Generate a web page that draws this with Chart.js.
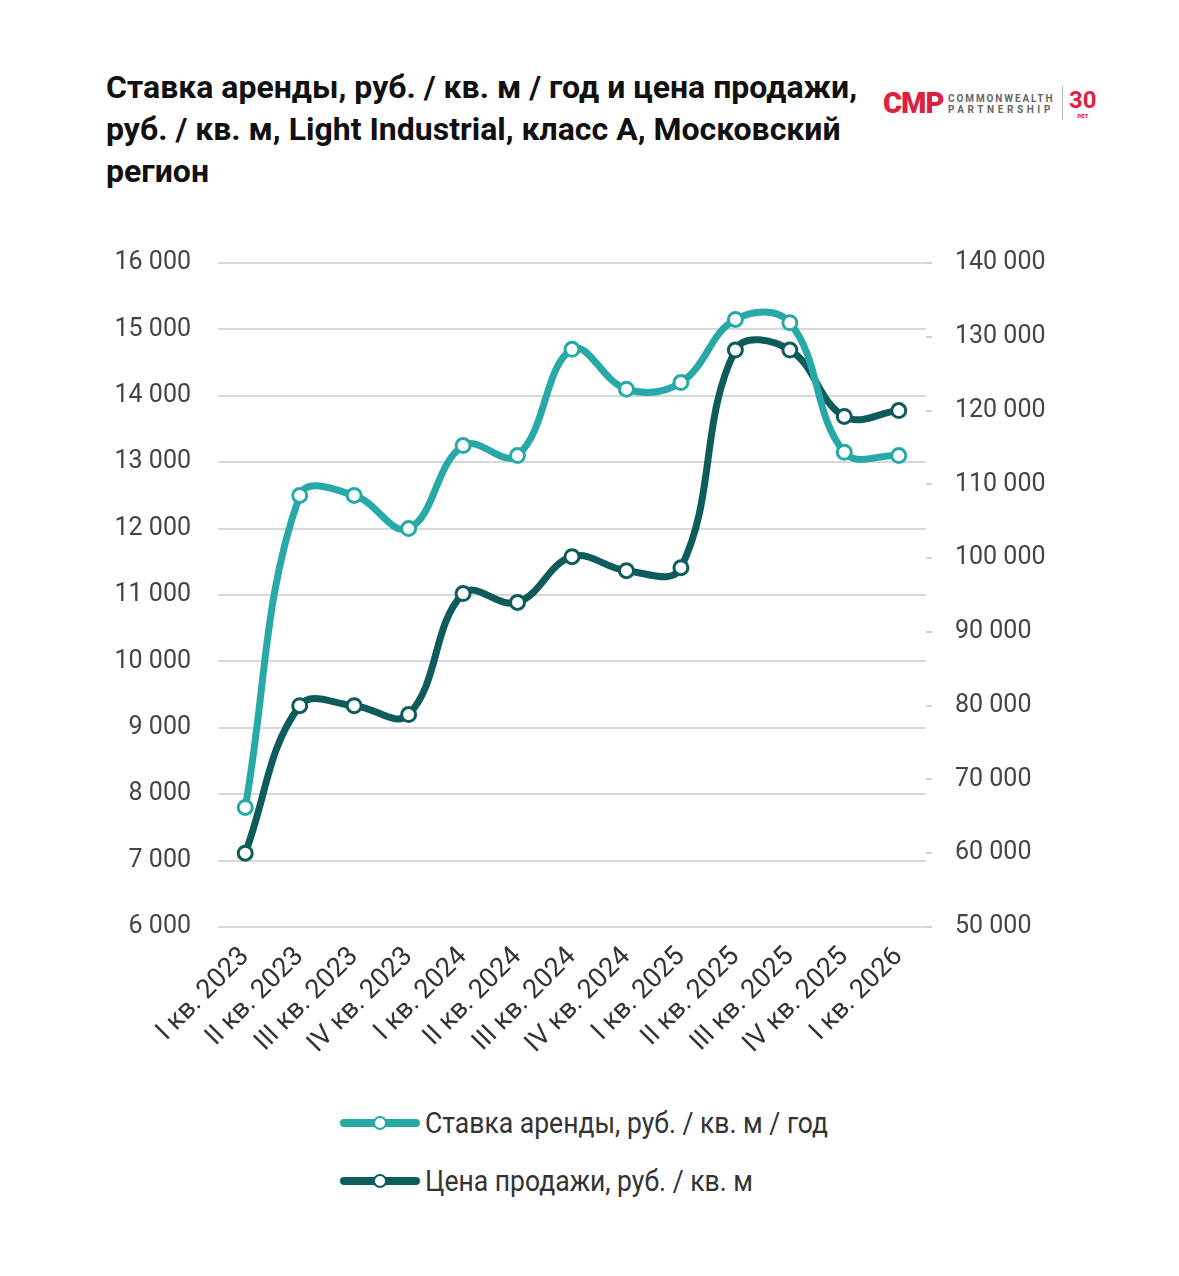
<!DOCTYPE html>
<html>
<head>
<meta charset="utf-8">
<script src="https://cdn.jsdelivr.net/npm/chart.js@4"></script>
<style>
  body { margin: 0; background: #fff; width: 1179px; height: 1276px; position: relative; overflow: hidden; font-family: Roboto, sans-serif; }
  .title { position: absolute; left: 106px; top: 66px; font-weight: 700; font-size: 32px; line-height: 42px; color: #111; white-space: nowrap; }
  .box { position: absolute; left: 0; top: 221px; width: 1179px; height: 853px; }
  .legend { position: absolute; left: 340px; top: 1094px; }
  .legend .item { display: flex; align-items: center; height: 58px; }
  .legend .sym { position: relative; width: 80px; height: 16px; margin-right: 5px; }
  .legend .sym .ln { position: absolute; left: 0; right: 0; top: 4px; height: 8px; border-radius: 4px; }
  .legend .sym .pt { position: absolute; left: 33px; top: 1px; width: 10px; height: 10px; border-radius: 50%; background: #fff; border: 2px solid; }
  .legend .txt { font-size: 29px; color: #333; transform: scaleX(0.915); transform-origin: left center; white-space: nowrap; }
  .logo { position: absolute; left: 883px; top: 84px; height: 40px; }
  .logo .cmp { position: absolute; left: 0; top: 2px; font-weight: 900; font-size: 29px; color: #de1f3f; letter-spacing: -1px; }
  .logo .nm { position: absolute; left: 65px; top: 9px; font-size: 10px; font-weight: 700; color: #666; line-height: 11px; letter-spacing: 1.9px; }
  .logo .sep { position: absolute; left: 179px; top: 2px; width: 1px; height: 34px; background: #bbb; }
  .logo .yr { position: absolute; left: 186px; top: 2px; font-weight: 700; font-size: 24px; color: #de1f3f; }
  .logo .let { position: absolute; left: 194px; top: 28px; font-size: 7px; font-weight: 700; color: #de1f3f; }
</style>
</head>
<body>
<div class="title">Ставка аренды, руб. / кв. м / год и цена продажи,<br>руб. / кв. м, Light Industrial, класс А, Московский<br>регион</div>
<div class="logo">
  <div class="cmp">CMP</div>
  <div class="nm">COMMONWEALTH<br><span style="letter-spacing:3.6px">PARTNERSHIP</span></div>
  <div class="sep"></div>
  <div class="yr">30</div>
  <div class="let">лет</div>
</div>
<div class="box"><canvas id="chart"></canvas></div>
<div class="legend" id="legend"></div>
<script>
var quarters = ['I кв. 2023', 'II кв. 2023', 'III кв. 2023', 'IV кв. 2023',
                'I кв. 2024', 'II кв. 2024', 'III кв. 2024', 'IV кв. 2024',
                'I кв. 2025', 'II кв. 2025', 'III кв. 2025', 'IV кв. 2025', 'I кв. 2026'];
var rentRate = [7800, 12500, 12500, 12000, 13250, 13100, 14700, 14100, 14200, 15150, 15100, 13150, 13100];
var salePrice = [60000, 80000, 80000, 78800, 95200, 94000, 100200, 98300, 98700, 128200, 128200, 119200, 120000];
var rentLabel = 'Ставка аренды, руб. / кв. м / год';
var saleLabel = 'Цена продажи, руб. / кв. м';

var lightTeal = '#27aaa7';
var darkTeal = '#0e5b5c';

function fmt(v) {
    return String(v).replace(/\B(?=(\d{3})+(?!\d))/g, ' ');
}

var ctx = document.getElementById('chart');

var chart = new Chart(ctx, {
    type: 'line',
    data: {
        labels: quarters,
        datasets: [{
                label: rentLabel,
                data: rentRate,
                yAxisID: 'y',
                borderColor: lightTeal,
                borderWidth: 7,
                tension: 0.4,
                pointRadius: 7,
                pointBorderWidth: 3,
                pointBackgroundColor: '#fff',
                pointBorderColor: lightTeal
            },
            {
                label: saleLabel,
                data: salePrice,
                yAxisID: 'y1',
                borderColor: darkTeal,
                borderWidth: 7,
                tension: 0.4,
                pointRadius: 7,
                pointBorderWidth: 3,
                pointBackgroundColor: '#fff',
                pointBorderColor: darkTeal
            }
        ]
    },
    options: {
        responsive: true,
        maintainAspectRatio: false,
        animation: false,
        layout: { padding: { top: 22, left: 0, right: 0, bottom: 0 } },
        plugins: {
            legend: { display: false },
            tooltip: { enabled: false }
        },
        scales: {
            x: {
                offset: true,
                grid: { display: false },
                border: { display: false },
                ticks: {
                    autoSkip: false,
                    maxRotation: 45,
                    minRotation: 45,
                    padding: 6,
                    color: '#333',
                    font: { family: 'Roboto', size: 27 }
                },
                afterFit: function (s) { s.height = 147; }
            },
            y: {
                position: 'left',
                min: 6000,
                max: 16000,
                grid: { color: '#d8d8d8', lineWidth: 2, drawTicks: false },
                border: { display: false },
                ticks: {
                    stepSize: 1000,
                    padding: 27,
                    color: '#444',
                    font: { family: 'Roboto', size: 25 },
                    callback: function (v) { return fmt(v); }
                },
                afterFit: function (s) { s.width = 218; }
            },
            y1: {
                position: 'right',
                min: 50000,
                max: 140000,
                grid: { drawOnChartArea: false, color: '#cfcfcf', lineWidth: 2, tickLength: 6 },
                border: { display: false },
                ticks: {
                    stepSize: 10000,
                    padding: 23,
                    color: '#444',
                    font: { family: 'Roboto', size: 25 },
                    callback: function (v) { return fmt(v); }
                },
                afterFit: function (s) { s.width = 253; }
            }
        }
    }
});

// legend below the chart, one item per row
var legendBox = document.getElementById('legend');
chart.data.datasets.forEach(function (ds) {
    var item = document.createElement('div');
    item.className = 'item';
    item.innerHTML = '<div class="sym"><div class="ln" style="background:' + ds.borderColor + '"></div>' +
        '<div class="pt" style="border-color:' + ds.borderColor + '"></div></div>' +
        '<div class="txt">' + ds.label + '</div>';
    legendBox.appendChild(item);
});
</script>
</body>
</html>
